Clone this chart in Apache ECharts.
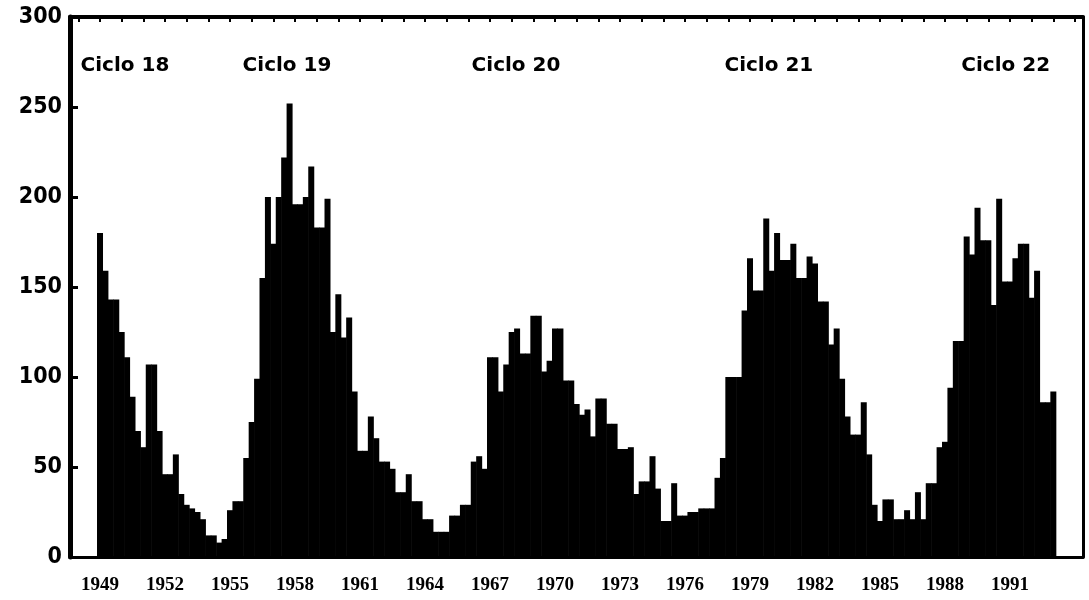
<!DOCTYPE html>
<html>
<head>
<meta charset="utf-8">
<script src="https://cdn.jsdelivr.net/npm/echarts@6/dist/echarts.min.js"></script>
<style>
html,body{margin:0;padding:0;background:#fff;}
#chart{width:1089px;height:600px;}
</style>
</head>
<body>
<div id="chart"></div>
<script>
// Quarterly sunspot values, starting at 1949.0
const firstYear = 1949;
const perYear = 4;
const sunspots = [
  180,159,143,143,125,111,89,70,61,107,107,70,46,46,57,35,29,27,25,21,
  12,12,8,10,26,31,31,55,75,99,155,200,174,200,222,252,196,196,200,217,
  183,183,199,125,146,122,133,92,59,59,78,66,53,53,49,36,36,46,31,31,
  21,21,14,14,14,23,23,29,29,53,56,49,111,111,92,107,125,127,113,113,
  134,134,103,109,127,127,98,98,85,79,82,67,88,88,74,74,60,60,61,35,
  42,42,56,38,20,20,41,23,23,25,25,27,27,27,44,55,100,100,100,137,
  166,148,148,188,159,180,165,165,174,155,155,167,163,142,142,118,127,99,78,68,
  68,86,57,29,20,32,32,21,21,26,21,36,21,41,41,61,64,94,120,120,
  178,168,194,176,176,140,199,153,153,166,174,174,144,159,86,86,92
];
const yearLabels = [1949,1952,1955,1958,1961,1964,1967,1970,1973,1976,1979,1982,1985,1988,1991];
const yearTicks = [1948,1949,1950,1951,1952,1953,1954,1955,1956,1957,1958,1959,1960,1961,1962,1963,1964,1965,1966,1967,1968,1969,1970,1971,1972,1973,1974,1975,1976,1977,1978,1979,1980,1981,1982,1983,1984,1985,1986,1987,1988,1989,1990,1991,1992,1993,1994];
const cycleNames = ['Ciclo 18','Ciclo 19','Ciclo 20','Ciclo 21','Ciclo 22'];
const cycleYears = [1950.15,1957.63,1968.2,1979.87,1990.8];
const cycleLevel = 273;

const xMin = 1947.615, xMax = 1994.369;

const barData = sunspots.map((v, i) => [firstYear + i / perYear, v]);
const cycleData = cycleNames.map((n, i) => ({ value: [cycleYears[i], cycleLevel], name: n }));

const chart = echarts.init(document.getElementById('chart'), null, { renderer: 'canvas' });
chart.setOption({
  animation: false,
  backgroundColor: '#fff',
  grid: { left: 70, right: 6, top: 17, bottom: 43, containLabel: false },
  xAxis: [
    {
      type: 'value', min: xMin, max: xMax, position: 'bottom',
      axisLine: { show: true, onZero: false, lineStyle: { color: '#000', width: 3 } },
      axisTick: { show: false },
      splitLine: { show: false },
      axisLabel: {
        customValues: yearLabels,
        formatter: v => String(Math.round(v)),
        color: '#000', fontFamily: 'Liberation Serif, serif', fontWeight: 'bold',
        fontSize: 19, margin: 19
      }
    },
    {
      type: 'value', min: xMin, max: xMax, position: 'top',
      axisLine: { show: true, onZero: false, lineStyle: { color: '#000', width: 4 } },
      axisTick: { show: true, inside: true, customValues: yearTicks, length: 5, lineStyle: { color: '#000', width: 2 } },
      splitLine: { show: false },
      axisLabel: { show: false }
    }
  ],
  yAxis: [
    {
      type: 'value', min: 0, max: 300, interval: 50, position: 'left',
      axisLine: { show: true, onZero: false, lineStyle: { color: '#000', width: 5 } },
      axisTick: { show: true, inside: true, length: 8, lineStyle: { color: '#000', width: 3 } },
      splitLine: { show: false },
      axisLabel: {
        color: '#000', fontFamily: '"DejaVu Sans Condensed", "DejaVu Sans", sans-serif',
        fontWeight: 'bold', fontSize: 23, margin: 8
      }
    },
    {
      type: 'value', min: 0, max: 300, interval: 50, position: 'right',
      axisLine: { show: true, onZero: false, lineStyle: { color: '#000', width: 3 } },
      axisTick: { show: false },
      splitLine: { show: false },
      axisLabel: { show: false }
    }
  ],
  series: [
    {
      type: 'bar', xAxisIndex: 0, yAxisIndex: 0,
      data: barData,
      barWidth: 6,
      itemStyle: { color: '#000' },
      silent: true
    },
    {
      type: 'scatter', xAxisIndex: 0, yAxisIndex: 0,
      data: cycleData,
      symbolSize: 0,
      silent: true,
      itemStyle: { opacity: 1, color: '#000' },
      label: {
        show: true, position: 'inside', opacity: 1,
        formatter: p => p.name,
        color: '#000', textBorderWidth: 0,
        fontFamily: '"DejaVu Sans", sans-serif',
        fontWeight: 'bold', fontSize: 20
      }
    }
  ]
});
</script>
</body>
</html>
